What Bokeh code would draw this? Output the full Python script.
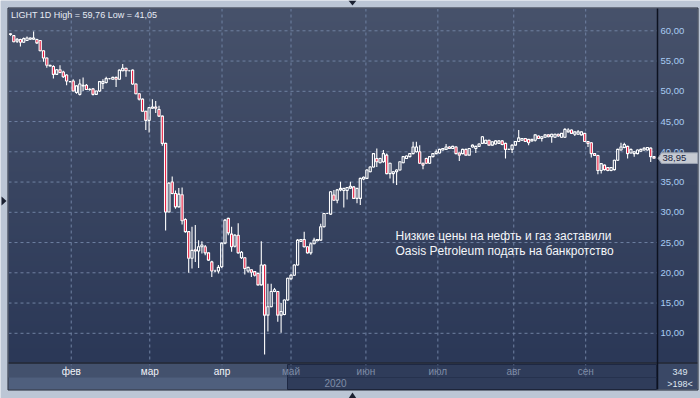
import numpy as np
from bokeh.plotting import figure
from bokeh.models import Range1d, ColumnDataSource
from bokeh.core.properties import value
from bokeh.embed import file_html
from bokeh.resources import INLINE

# ---------------- data ----------------
opens = [59.4, 59.2, 58.3, 58.55, 58.1, 58.4, 58.6, 58.6, 58.55, 58.4,
         56.7, 55.5, 54.3, 54.1, 52.8, 53.55, 53.2, 52.7, 51.6, 51.7,
         49.8, 49.5, 50.9, 51.0, 50.3, 50.4, 49.5, 50.05, 51.3, 51.45,
         52.1, 52.0, 52.3, 52.0, 53.4, 53.8, 53.4, 53.5, 51.2, 49.6,
         48.7, 46.7, 45.2, 47.2, 47.4, 47.0, 45.9, 41.4, 30.05, 35.0,
         33.1, 30.9, 32.9, 28.8, 26.8, 22.4, 23.8, 23.6, 24.3, 24.3,
         23.3, 21.8, 20.3, 20.3, 21.0, 24.9, 29.0, 26.4, 24.4, 26.2,
         22.5, 22.5, 20.3, 20.5, 20.2, 19.9, 18.0, 21.3, 13.0, 14.4,
         16.9, 16.9, 13.0, 13.1, 15.5, 19.0, 19.6, 21.3, 25.2, 25.5,
         24.3, 23.3, 24.8, 25.3, 25.4, 27.6, 29.8, 29.7, 32.85, 32.0,
         33.7, 33.6, 33.6, 34.0, 34.2, 32.3, 32.3, 35.5, 35.6, 36.7,
         37.5, 38.9, 38.2, 38.35, 39.45, 36.4, 36.4, 36.7, 37.0, 38.2,
         38.9, 39.2, 39.7, 40.0, 40.0, 38.1, 38.9, 38.1, 39.2, 39.7,
         39.8, 40.3, 40.4, 40.8, 40.55, 40.8, 39.8, 39.7, 40.4, 39.45,
         40.8, 40.55, 40.9, 41.4, 41.4, 41.9, 41.1, 41.3, 41.4, 41.8,
         41.4, 40.4, 40.4, 41.1, 41.7, 41.9, 42.2, 42.05, 41.8, 41.9,
         42.6, 42.2, 42.4, 42.8, 42.5, 42.4, 42.9, 42.4, 42.4, 43.3,
         43.6, 42.9, 42.9, 42.8, 43.05, 41.7, 41.5, 39.7, 39.4, 36.9,
         37.8, 37.4, 36.9, 37.05, 38.6, 40.3, 40.7, 40.9, 39.8, 39.7,
         39.7, 40.1, 40.3, 40.3, 40.6, 39.2]
highs = [59.6, 59.3, 58.8, 58.7, 58.9, 59.05, 58.9, 59.9, 58.7, 58.5,
         56.8, 55.6, 54.4, 54.3, 53.7, 54.3, 53.4, 52.8, 51.7, 52.0,
         51.0, 52.0, 52.3, 51.2, 50.5, 50.5, 50.1, 51.7, 52.0, 52.4,
         52.2, 52.4, 52.4, 53.6, 54.5, 53.9, 53.5, 53.6, 51.3, 49.7,
         48.8, 46.8, 47.4, 48.7, 48.4, 47.6, 46.0, 41.5, 35.0, 35.9,
         33.6, 34.0, 34.1, 29.0, 26.9, 27.6, 27.9, 25.4, 25.2, 24.6,
         23.4, 22.0, 20.5, 21.3, 25.0, 28.9, 29.1, 27.6, 26.4, 28.2,
         23.6, 22.6, 21.0, 20.6, 20.3, 20.0, 25.2, 21.4, 18.2, 18.2,
         17.5, 17.0, 15.0, 15.6, 19.2, 19.8, 21.4, 25.6, 25.6, 26.8,
         24.4, 25.0, 25.8, 25.6, 28.1, 29.9, 29.9, 33.5, 33.7, 33.8,
         35.05, 34.0, 34.2, 35.05, 34.3, 34.0, 35.7, 35.9, 37.1, 37.6,
         39.8, 40.55, 39.0, 40.3, 39.7, 38.2, 36.8, 37.1, 38.4, 39.3,
         39.4, 39.8, 41.65, 41.65, 41.1, 38.2, 39.0, 39.3, 39.8, 40.4,
         40.5, 40.6, 41.3, 40.9, 41.0, 40.9, 39.9, 40.5, 40.5, 40.6,
         41.2, 41.0, 41.4, 42.6, 42.0, 42.0, 41.7, 41.9, 41.9, 41.9,
         41.5, 40.5, 41.2, 41.8, 43.6, 42.3, 42.3, 42.1, 42.1, 42.9,
         42.7, 42.6, 42.9, 42.9, 43.0, 43.0, 43.0, 43.1, 43.9, 43.9,
         43.7, 43.4, 43.6, 43.4, 43.1, 41.8, 41.6, 39.8, 39.5, 38.1,
         37.9, 37.5, 37.5, 38.7, 40.5, 41.5, 41.5, 41.0, 40.5, 40.1,
         40.4, 40.5, 40.7, 40.8, 40.7, 39.3]
lows = [59.2, 58.1, 58.0, 57.4, 58.0, 58.3, 58.5, 58.5, 57.8, 56.6,
        54.9, 53.9, 54.1, 52.1, 52.7, 53.0, 52.2, 51.0, 51.5, 50.0,
        49.6, 49.3, 50.05, 50.2, 50.1, 49.3, 49.4, 49.9, 50.4, 51.3,
        52.0, 51.9, 50.7, 51.9, 53.3, 52.4, 53.3, 51.1, 49.5, 48.5,
        46.6, 43.6, 43.2, 47.1, 46.4, 45.8, 41.0, 27.0, 30.0, 33.0,
        30.6, 30.8, 28.0, 26.6, 20.0, 20.7, 21.8, 20.8, 23.2, 22.9,
        22.0, 19.3, 20.1, 19.9, 20.8, 24.7, 26.2, 23.5, 24.2, 23.2,
        22.3, 19.7, 20.0, 19.3, 19.4, 17.9, 17.9, 6.5, 10.3, 14.3,
        16.8, 11.9, 10.1, 13.0, 15.4, 18.9, 19.5, 21.2, 25.1, 24.2,
        23.2, 23.0, 24.7, 25.2, 25.3, 27.5, 29.7, 29.6, 31.9, 31.5,
        33.5, 30.8, 32.1, 33.9, 32.2, 31.5, 31.2, 35.3, 35.5, 36.6,
        37.4, 37.5, 38.1, 38.2, 36.3, 35.6, 34.8, 34.5, 36.9, 38.1,
        38.8, 39.1, 39.6, 39.9, 38.0, 37.1, 38.0, 38.0, 39.1, 39.6,
        39.7, 40.2, 40.3, 40.5, 40.5, 39.6, 38.5, 39.6, 39.4, 39.4,
        40.7, 39.8, 40.8, 41.3, 41.3, 41.0, 41.0, 41.2, 41.3, 41.1,
        38.9, 40.3, 39.8, 41.0, 41.6, 41.8, 41.6, 41.1, 41.7, 41.7,
        42.1, 41.7, 42.3, 42.4, 41.5, 42.3, 42.5, 42.3, 42.3, 43.2,
        43.0, 42.6, 42.8, 42.7, 41.6, 40.8, 39.05, 39.3, 36.3, 36.4,
        36.9, 36.8, 36.8, 36.9, 38.5, 40.2, 40.6, 38.9, 39.7, 39.2,
        39.6, 40.0, 40.2, 40.2, 38.3, 38.9]
closes = [59.5, 58.2, 58.6, 58.1, 58.7, 58.8, 58.8, 58.8, 58.0, 56.7,
          55.5, 54.3, 54.2, 52.8, 53.55, 53.1, 52.4, 51.7, 51.6, 50.05,
          50.9, 51.2, 51.0, 50.3, 50.35, 49.5, 50.05, 51.6, 51.6, 52.1,
          52.1, 52.3, 52.0, 53.5, 53.8, 53.4, 53.4, 51.2, 49.6, 48.7,
          46.7, 45.2, 47.3, 47.4, 47.2, 45.9, 41.4, 30.05, 34.8, 33.1,
          30.9, 33.0, 28.6, 26.8, 22.4, 23.7, 23.6, 24.3, 24.6, 23.3,
          22.1, 20.3, 20.3, 20.9, 24.9, 28.7, 26.6, 24.3, 26.2, 23.3,
          23.4, 20.7, 20.9, 20.1, 19.6, 18.0, 21.3, 13.0, 14.4, 16.9,
          17.2, 13.0, 13.6, 15.5, 19.1, 19.6, 21.3, 25.4, 25.5, 24.3,
          23.3, 24.8, 25.4, 25.5, 27.6, 29.8, 29.8, 33.4, 32.0, 33.7,
          33.95, 33.95, 34.1, 34.3, 32.3, 33.95, 35.6, 35.8, 37.0, 37.5,
          39.7, 38.35, 38.9, 39.7, 36.4, 38.1, 36.7, 37.0, 38.35, 39.2,
          39.3, 39.7, 40.8, 40.8, 38.1, 37.8, 38.1, 39.2, 39.7, 40.0,
          40.4, 40.55, 40.8, 40.55, 40.9, 39.7, 39.45, 40.4, 39.45, 40.55,
          41.1, 40.9, 41.3, 42.5, 41.9, 41.1, 41.65, 41.8, 41.8, 41.2,
          40.4, 40.4, 41.1, 41.7, 42.3, 42.2, 41.7, 41.5, 42.05, 42.8,
          42.2, 42.5, 42.8, 42.5, 42.9, 42.9, 42.6, 43.05, 43.7, 43.6,
          43.05, 43.3, 43.3, 43.3, 41.7, 41.4, 39.7, 39.4, 36.9, 38.05,
          37.05, 36.9, 37.4, 38.6, 40.4, 40.8, 41.2, 39.7, 40.4, 40.0,
          40.3, 40.4, 40.6, 40.7, 39.2, 38.95]

price_ticks = [10, 15, 20, 25, 30, 35, 40, 45, 50, 55, 60]
price_labels = ["10,00", "15,00", "20,00", "25,00", "30,00", "35,00",
                "40,00", "45,00", "50,00", "55,00", "60,00"]
month_pos = [18.4, 42.2, 64.1, 85.0, 107.7, 129.5, 152.5, 174.3]
month_labels = ["фев", "мар", "апр", "май", "июн", "июл", "авг", "сен"]
year_pos = [98.5]
year_labels = ["2020"]
last_price = 38.95
last_label = "38,95"
header = "LIGHT 1D High = 59,76 Low = 41,05"
note_lines = ["Низкие цены на нефть и газ заставили",
              "Oasis Petroleum подать на банкротство"]
bars_total = "349"
bars_visible = ">198<"

# ---------------- layout helpers (pixel -> data) ----------------
X0, DXP = 10.0, 3.3      # px of bar 0, px per bar
Y60, DYP = 30.3, 6.05    # px of price 60, px per price unit


def xd(px):
    return (px - X0) / DXP


def yd(py):
    return 60.0 - (py - Y60) / DYP


W, H = 700, 398
p = figure(width=W, height=H, output_backend="svg", toolbar_location=None,
           x_range=Range1d(xd(0), xd(W)), y_range=Range1d(yd(H), yd(0)),
           x_axis_location=None, y_axis_location=None, min_border=0,
           background_fill_color="#bcc6d5", border_fill_color="#bcc6d5",
           outline_line_color=None)
p.title.visible = False
p.xgrid.visible = False
p.ygrid.visible = False

FONT = value("Liberation Sans")

# gradient background for plot and price-axis panel
rows = 354
t = np.linspace(0.0, 1.0, rows)[:, None]
top_c = np.array([71, 82, 107])
bot_c = np.array([43, 56, 87])
cols = bot_c + (top_c - bot_c) * t
img = np.empty((rows, 1), dtype=np.uint32)
view = img.view(dtype=np.uint8).reshape((rows, 1, 4))
view[:, 0, 0] = cols[:, 0]
view[:, 0, 1] = cols[:, 1]
view[:, 0, 2] = cols[:, 2]
view[:, 0, 3] = 255
p.image_rgba(image=[img], x=xd(8), y=yd(362), dw=xd(697) - xd(8),
             dh=yd(8) - yd(362))

# grid lines
gx0, gx1 = xd(8), xd(657)
p.segment(x0=[gx0] * len(price_ticks), x1=[gx1] * len(price_ticks),
          y0=price_ticks, y1=price_ticks, line_color="#6f81a2",
          line_width=1, line_dash="3 3")
p.segment(x0=month_pos, x1=month_pos, y0=[yd(8)] * len(month_pos),
          y1=[yd(376)] * len(month_pos), line_color="#6f81a2",
          line_width=1, line_dash="3 3")

# bottom time band
thumb_px = 287
p.quad(left=[xd(8)], right=[xd(657)], top=[yd(363)], bottom=[yd(389)],
       fill_color="#43516d", line_color=None)
p.quad(left=[xd(8)], right=[xd(thumb_px)], top=[yd(377)], bottom=[yd(389)],
       fill_color="#4f5f7d", line_color=None)
p.quad(left=[xd(thumb_px)], right=[xd(656)], top=[yd(364)], bottom=[yd(389)],
       fill_color="#2f3c5a", line_color="#1e2843", line_width=1)
p.segment(x0=[xd(thumb_px)], x1=[xd(656)], y0=[yd(377)], y1=[yd(377)],
          line_color="#26324e", line_width=1)
p.quad(left=[xd(657)], right=[xd(697)], top=[yd(363)], bottom=[yd(389)],
       fill_color="#3a4866", line_color=None)
p.segment(x0=month_pos, x1=month_pos, y0=[yd(363)] * len(month_pos),
          y1=[yd(376)] * len(month_pos), line_color="#6f81a2",
          line_width=1, line_dash="2 2", line_alpha=0.6)

# candles
idx = list(range(len(opens)))
tops = [max(o, c) for o, c in zip(opens, closes)]
bots = [min(o, c) for o, c in zip(opens, closes)]
fills = ["#e8173b" if c < o else "#000000" for o, c in zip(opens, closes)]
alphas = [1.0 if c < o else 0.0 for o, c in zip(opens, closes)]
src = ColumnDataSource(dict(x=idx, o=opens, h=highs, l=lows, c=closes,
                            top=tops, bot=bots, fill=fills, alpha=alphas))
p.segment(x0="x", x1="x", y0="top", y1="h", source=src,
          line_color="white", line_width=1.1)
p.segment(x0="x", x1="x", y0="l", y1="bot", source=src,
          line_color="white", line_width=1.1)
p.vbar(x="x", width=0.66, top="top", bottom="bot", source=src,
       fill_color="fill", fill_alpha="alpha", line_color="white",
       line_width=1.1)

# separators / frame
p.segment(x0=[xd(8)], x1=[xd(697)], y0=[yd(362.5)], y1=[yd(362.5)],
          line_color="#0d1220", line_width=1.5)
p.segment(x0=[xd(657)], x1=[xd(657)], y0=[yd(8)], y1=[yd(389)],
          line_color="#0d1220", line_width=1.5)
p.quad(left=[xd(7.5)], right=[xd(697.5)], top=[yd(7.5)], bottom=[yd(389.5)],
       fill_color=None, line_color="#1c2232", line_width=1)

# price axis labels
p.text(x=[xd(660)] * len(price_ticks), y=price_ticks, text=price_labels,
       text_font=FONT, text_font_size="9.5px", text_color="#a9cbf3",
       text_align="left", text_baseline="middle")

# month labels
mcolors = ["#f2f4f8" if (X0 + m * DXP) < thumb_px else "#7f8ca6"
           for m in month_pos]
p.text(x=month_pos, y=[yd(371)] * len(month_pos), text=month_labels,
       text_font=FONT, text_font_size="10px", text_color=mcolors,
       text_align="center", text_baseline="middle")
p.text(x=year_pos, y=[yd(382.5)], text=year_labels, text_font=FONT,
       text_font_size="10px", text_color="#7f8ca6", text_align="center",
       text_baseline="middle")
p.text(x=[xd(679.5), xd(679.5)], y=[yd(371), yd(383.5)],
       text=[bars_total, bars_visible], text_font=FONT,
       text_font_size="9px", text_color="#dfe6f0", text_align="center",
       text_baseline="middle")

# header
p.text(x=[xd(10.5)], y=[yd(14)], text=[header], text_font=FONT,
       text_font_size="9px", text_color="#e6ecf5", text_align="left",
       text_baseline="middle")

# annotation
p.text(x=[xd(395), xd(395)], y=[yd(235), yd(250)], text=note_lines,
       text_font=FONT, text_font_size="12px", text_color="#f4f6fa",
       text_align="left", text_baseline="alphabetic")

# last price marker
hh = 5.3 / DYP
p.patch(x=[xd(657.5), xd(661), xd(697), xd(697), xd(661)],
        y=[last_price, last_price + hh, last_price + hh, last_price - hh,
           last_price - hh],
        fill_color="#c6cad2", line_color="#9aa2b2", line_width=1)
p.text(x=[xd(662)], y=[last_price], text=[last_label], text_font=FONT,
       text_font_size="9.5px", text_color="#18223c", text_align="left",
       text_baseline="middle")

# window edge arrows
p.patch(x=[xd(1), xd(1), xd(6)], y=[yd(196), yd(205), yd(200.5)],
        fill_color="#1a2030", line_color=None)
p.patch(x=[xd(348), xd(356), xd(352)], y=[yd(0), yd(0), yd(5)],
        fill_color="#1a2030", line_color=None)
p.patch(x=[xd(348), xd(356), xd(352)], y=[yd(398), yd(398), yd(392)],
        fill_color="#1a2030", line_color=None)

open("out.html", "w").write(file_html(p, INLINE))
